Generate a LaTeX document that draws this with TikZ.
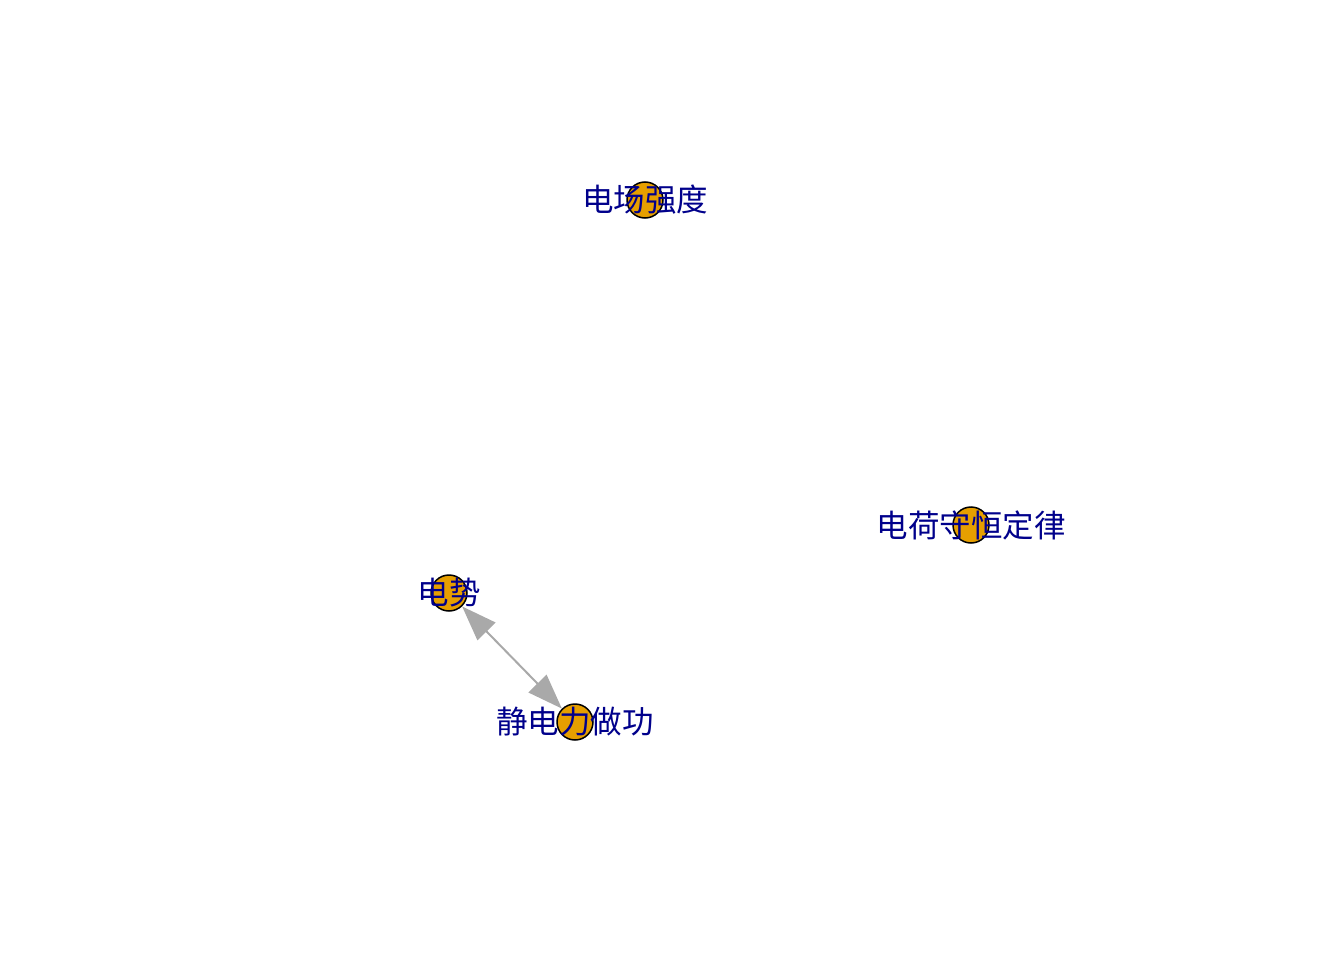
\documentclass[tikz,border=0pt]{standalone}
\usepackage{fontspec}
\newfontfamily\cjk{Noto Sans CJK SC}
\usetikzlibrary{arrows.meta}
\definecolor{vfill}{HTML}{E69F00}
\definecolor{lblue}{RGB}{0,0,139}
\definecolor{egray}{HTML}{A9A9A9}
\tikzset{
  vert/.style={circle, draw=black, fill=vfill, line width=1.5pt, minimum size=36pt, inner sep=0pt},
  lbl/.style={text=lblue, font=\cjk\fontsize{31.5}{38}\selectfont, inner sep=0pt},
  edge/.style={draw=egray, line width=2pt, {Triangle[length=35pt,width=25pt]}-{Triangle[length=35pt,width=25pt]}}
}
\begin{document}
\begin{tikzpicture}[x=1pt,y=-1pt]
\useasboundingbox (0,0) rectangle (1344,960);
\node[vert] (v1) at (645,200) {};
\node[vert] (v2) at (971,525) {};
\node[vert] (v3) at (449,593) {};
\node[vert] (v4) at (575,722) {};
\draw[edge] (v3) -- (v4);
\node[lbl] (l1) at (645,200) {电场强度};
\node[lbl] (l2) at (971,525) {电荷守恒定律};
\node[lbl] (l3) at (449,593) {电势};
\node[lbl] (l4) at (575,722) {静电力做功};
\end{tikzpicture}
\end{document}
